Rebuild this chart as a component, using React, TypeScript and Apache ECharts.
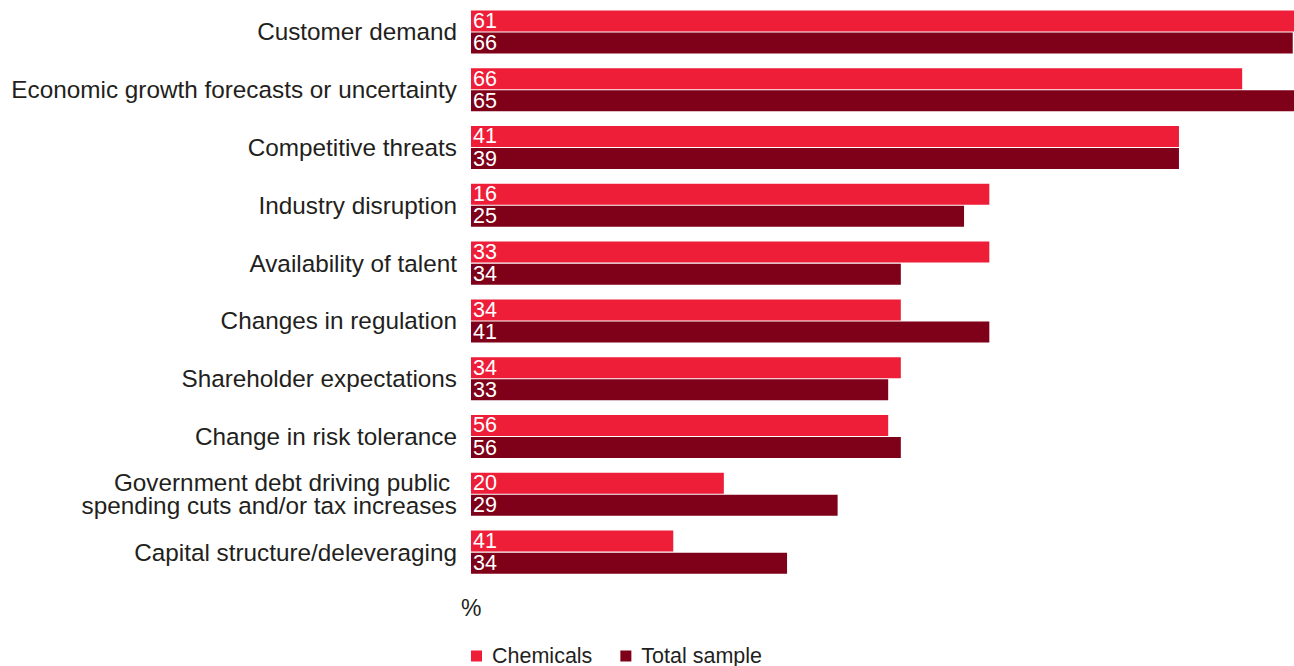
import React, { useEffect, useRef } from "react";
import * as echarts from "echarts";

const categories = [
  "Customer demand",
  "Economic growth forecasts or uncertainty",
  "Competitive threats",
  "Industry disruption",
  "Availability of talent",
  "Changes in regulation",
  "Shareholder expectations",
  "Change in risk tolerance",
  "Government debt driving public \nspending cuts and/or tax increases",
  "Capital structure/deleveraging",
];

// Bar lengths as drawn in the reference
const chemicalsBars = [66, 61, 56, 41, 41, 34, 34, 33, 20, 16];
const totalBars = [65, 66, 56, 39, 34, 41, 33, 34, 29, 25];

// Value labels as printed in the reference
const chemicalsLabels = [61, 66, 41, 16, 33, 34, 34, 56, 20, 41];
const totalLabels = [66, 65, 39, 25, 34, 41, 33, 56, 29, 34];

const seriesNames = ["Chemicals", "Total sample"];
const unitLabel = "%";

const FONT = "'Liberation Sans', Arial, Helvetica, sans-serif";
const TEXT = "#231f20";
const RED = "#ee1d38";
const DARK = "#7e0019";

export default function App() {
  const ref = useRef<HTMLDivElement>(null);

  useEffect(() => {
    document.body.style.margin = "0";
    if (!ref.current) return;
    const chart = echarts.init(ref.current, undefined, { renderer: "svg" });
    const valueLabel = (labels: number[]) => ({
      show: true,
      position: "insideLeft" as const,
      distance: 2,
      color: "#ffffff",
      fontSize: 21.5,
      lineHeight: 20,
      fontFamily: FONT,
      formatter: (p: any) => String(labels[p.dataIndex]),
    });
    chart.setOption({
      animation: false,
      textStyle: { fontFamily: FONT },
      grid: { left: 471, right: 0, top: 3, height: 578, containLabel: false },
      xAxis: {
        type: "value",
        min: 0,
        max: 65.1,
        show: false,
      },
      yAxis: {
        type: "category",
        inverse: true,
        data: categories,
        axisLine: { show: false },
        axisTick: { show: false },
        splitLine: { show: false },
        axisLabel: {
          margin: 14,
          fontSize: 24.3,
          lineHeight: 23,
          color: TEXT,
          fontFamily: FONT,
          align: "right",
          padding: [3, 0, 0, 0],
        },
      },
      legend: {
        data: seriesNames,
        left: 471,
        top: 645,
        padding: 0,
        icon: "rect",
        itemWidth: 11,
        itemHeight: 11,
        itemGap: 28,
        textStyle: { fontSize: 21.5, lineHeight: 20, color: TEXT, fontFamily: FONT, padding: [0, 0, 0, 5] },
      },
      graphic: [
        {
          type: "text",
          left: 461,
          top: 596,
          style: { text: unitLabel, fontSize: 23, fill: TEXT, fontFamily: FONT },
        },
      ],
      series: [
        {
          name: seriesNames[0],
          type: "bar",
          data: chemicalsBars,
          barWidth: 21,
          barGap: "5%",
          clip: true,
          itemStyle: { color: RED },
          label: valueLabel(chemicalsLabels),
        },
        {
          name: seriesNames[1],
          type: "bar",
          data: totalBars,
          barWidth: 21,
          barGap: "5%",
          clip: true,
          itemStyle: { color: DARK },
          label: valueLabel(totalLabels),
        },
      ],
    });
    return () => chart.dispose();
  }, []);

  return <div ref={ref} style={{ width: 1294, height: 666 }} />;
}
